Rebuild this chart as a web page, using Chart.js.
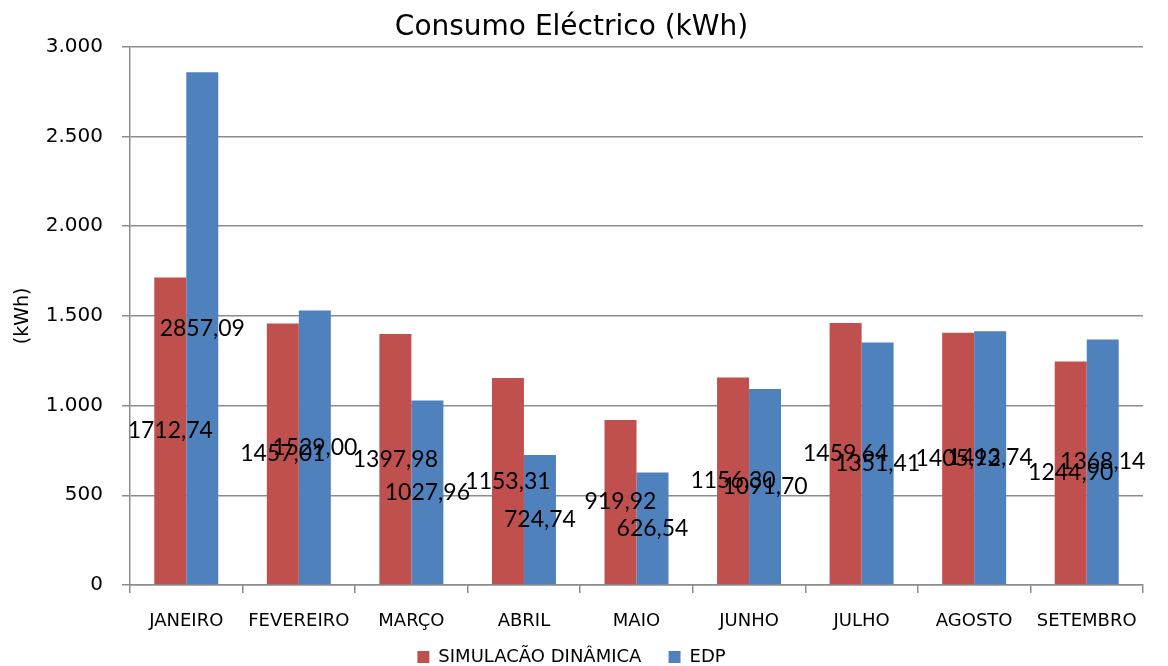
<!DOCTYPE html>
<html>
<head>
<meta charset="utf-8">
<script src="https://cdn.jsdelivr.net/npm/chart.js@4.4.0/dist/chart.umd.min.js"></script>
<style>
    html, body { margin: 0; padding: 0; background: #ffffff; }
    #wrap { width: 1168px; height: 666px; position: relative; }
</style>
</head>
<body>
<div id="wrap"><canvas id="consumoChart"></canvas></div>
<script>
// Consumo eléctrico mensal (kWh)
const meses = ['JANEIRO', 'FEVEREIRO', 'MARÇO', 'ABRIL', 'MAIO', 'JUNHO', 'JULHO', 'AGOSTO', 'SETEMBRO'];
const simulacao = [1712.74, 1457.01, 1397.98, 1153.31, 919.92, 1156.30, 1459.64, 1405.92, 1244.90];
const edp = [2857.09, 1529.00, 1027.96, 724.74, 626.54, 1091.70, 1351.41, 1413.74, 1368.14];
const serieNomes = ['SIMULACÃO DINÂMICA', 'EDP'];
const yMax = 3000;
const yStep = 500;

const gridGray = '#8c8c8c';

// 3000 -> "3.000"
function formatTick(v) {
    return String(v).replace(/\B(?=(\d{3})+(?!\d))/g, '.');
}

// 1712.74 -> "1712,74"
function formatValue(v) {
    return v.toFixed(2).replace('.', ',');
}

// labels in the middle of each bar
const valueLabels = {
    id: 'valueLabels',
    afterDatasetsDraw(chart) {
        const ctx = chart.ctx;
        ctx.save();
        ctx.font = '23px Lato';
        ctx.fillStyle = '#000000';
        ctx.textAlign = 'center';
        ctx.textBaseline = 'middle';
        chart.data.datasets.forEach((ds, i) => {
            chart.getDatasetMeta(i).data.forEach((bar, j) => {
                ctx.fillText(formatValue(ds.data[j]), bar.x, (bar.y + bar.base) / 2);
            });
        });
        ctx.restore();
    }
};

const ctx = document.getElementById('consumoChart').getContext('2d');
new Chart(ctx, {
    type: 'bar',
    data: {
        labels: meses,
        datasets: [
            {
                label: serieNomes[0],
                data: simulacao,
                backgroundColor: '#C0504D',
                borderWidth: 0
            },
            {
                label: serieNomes[1],
                data: edp,
                backgroundColor: '#4F81BD',
                borderWidth: 0
            }
        ]
    },
    options: {
        responsive: true,
        maintainAspectRatio: false,
        animation: false,
        categoryPercentage: 0.5686,
        barPercentage: 1.0,
        layout: {
            padding: { left: 0, right: 25, top: 0, bottom: 0 }
        },
        plugins: {
            title: {
                display: true,
                text: 'Consumo Eléctrico (kWh)',
                color: '#000000',
                font: { family: 'DejaVu Sans', size: 28, weight: 'normal' },
                padding: { top: 11, bottom: 2 }
            },
            legend: {
                position: 'bottom',
                maxHeight: 28,
                labels: {
                    color: '#000000',
                    font: { family: 'DejaVu Sans', size: 18 },
                    boxWidth: 12,
                    boxHeight: 12,
                    padding: 10,
                    // a bit more room between the two entries
                    generateLabels(chart) {
                        const items = Chart.defaults.plugins.legend.labels.generateLabels(chart);
                        items[0].text += '   ';
                        return items;
                    }
                }
            },
            tooltip: { enabled: false }
        },
        scales: {
            x: {
                grid: {
                    drawOnChartArea: false,
                    drawTicks: true,
                    tickLength: 8,
                    color: gridGray,
                    lineWidth: 1.5
                },
                border: { color: gridGray, width: 1.5 },
                ticks: {
                    color: '#000000',
                    font: { family: 'DejaVu Sans', size: 18 },
                    padding: 18,
                    maxRotation: 0,
                    autoSkip: false
                },
                afterFit(scale) { scale.height = 53; }
            },
            y: {
                min: 0,
                max: yMax,
                grid: {
                    color: gridGray,
                    lineWidth: 1.5,
                    tickLength: 8
                },
                border: { color: gridGray, width: 1.5 },
                ticks: {
                    stepSize: yStep,
                    color: '#000000',
                    font: { family: 'DejaVu Sans', size: 20 },
                    padding: 19,
                    callback: (v) => formatTick(v)
                },
                title: {
                    display: true,
                    text: '(kWh)',
                    color: '#000000',
                    font: { family: 'DejaVu Sans', size: 19 },
                    padding: { top: 12, bottom: 0 }
                },
                afterFit(scale) { scale.width = 130; }
            }
        }
    },
    plugins: [valueLabels]
});
</script>
</body>
</html>
